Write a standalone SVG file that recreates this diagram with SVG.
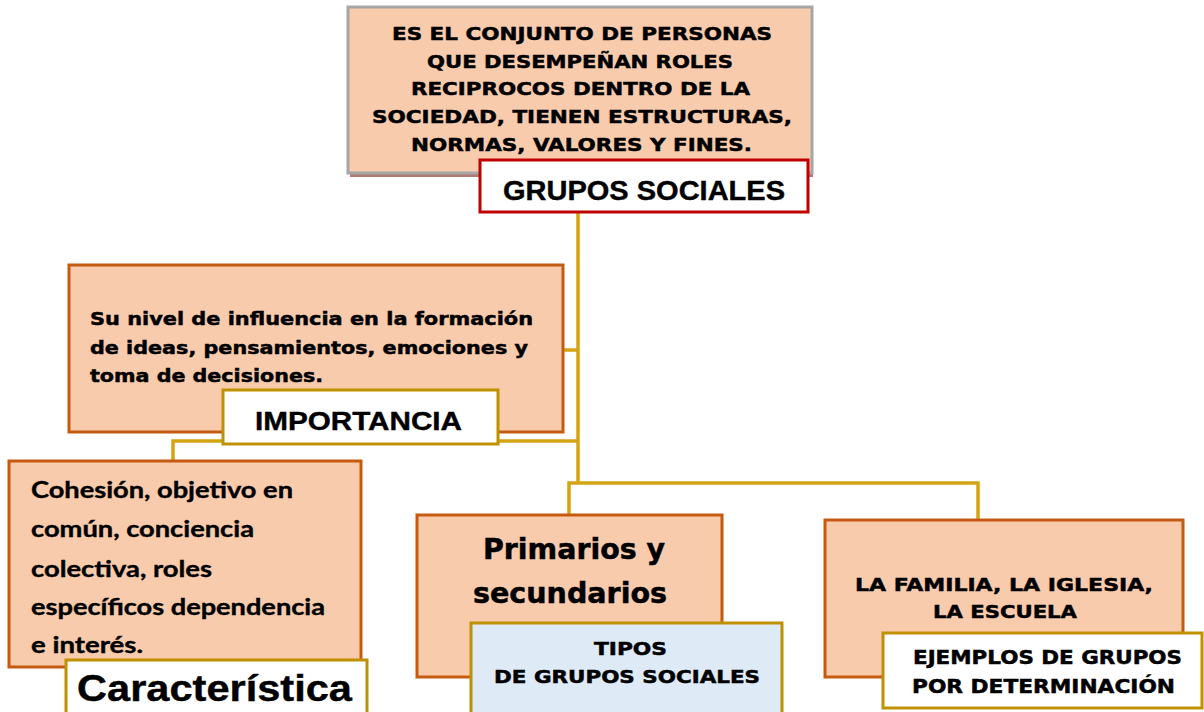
<svg xmlns="http://www.w3.org/2000/svg" width="1204" height="712" viewBox="0 0 1204 712">
<style>
.peach{fill:#f8cbad;stroke:#c55a11;stroke-width:3}
.lbl{fill:#ffffff;stroke:#bf9000;stroke-width:3}
.conn{fill:none;stroke:#d4a415;stroke-width:3.5}
.v{font-family:"DejaVu Sans",Verdana,sans-serif;font-weight:bold;fill:#000;stroke:#000;stroke-width:0.5}
.a{font-family:"Liberation Sans",Arial,sans-serif;font-weight:bold;fill:#000;stroke:#000;stroke-width:0.4}
.c{font-family:Lato,"Open Sans",sans-serif;font-weight:bold;fill:#000;stroke:#000;stroke-width:0.4}
</style>
<rect width="1204" height="712" fill="#fff"/>
<g id="connectors">
<path class="conn" d="M578 212 V484"/>
<path class="conn" d="M563 350 H578"/>
<path class="conn" d="M173 460 V441 H578"/>
<path class="conn" d="M569 515 V483 H978 V519"/>
</g>
<g id="definicion">
<rect x="350" y="9" width="463" height="168" fill="#b07a70"/>
<rect x="348" y="7" width="464" height="166" fill="#f8cbad" stroke="#a6a6a6" stroke-width="3"/>
<text class="v" font-size="18.5">
<tspan x="392" y="40" textLength="380" lengthAdjust="spacingAndGlyphs">ES EL CONJUNTO DE PERSONAS</tspan>
<tspan x="427" y="68" textLength="306" lengthAdjust="spacingAndGlyphs">QUE DESEMPEÑAN ROLES</tspan>
<tspan x="411" y="95" textLength="339" lengthAdjust="spacingAndGlyphs">RECIPROCOS DENTRO DE LA</tspan>
<tspan x="372" y="123" textLength="420" lengthAdjust="spacingAndGlyphs">SOCIEDAD, TIENEN ESTRUCTURAS,</tspan>
<tspan x="411" y="151" textLength="341" lengthAdjust="spacingAndGlyphs">NORMAS, VALORES Y FINES.</tspan>
</text>
</g>
<g id="grupos-sociales">
<rect x="480" y="160" width="328" height="52" fill="#fff" stroke="#c00000" stroke-width="3"/>
<text class="a" font-size="27" x="503" y="200" textLength="282" lengthAdjust="spacingAndGlyphs">GRUPOS SOCIALES</text>
</g>
<g id="importancia-texto">
<rect class="peach" x="69" y="265" width="494" height="167"/>
<text class="v" font-size="18.5">
<tspan x="90" y="325" textLength="443" lengthAdjust="spacingAndGlyphs">Su nivel de influencia en la formación</tspan>
<tspan x="90" y="354" textLength="438" lengthAdjust="spacingAndGlyphs">de ideas, pensamientos, emociones y</tspan>
<tspan x="90" y="382" textLength="233" lengthAdjust="spacingAndGlyphs">toma de decisiones.</tspan>
</text>
</g>
<g id="importancia">
<rect class="lbl" x="223" y="390" width="275" height="54"/>
<text class="a" font-size="25.5" x="255" y="430" textLength="207" lengthAdjust="spacingAndGlyphs">IMPORTANCIA</text>
</g>
<g id="caracteristica-texto">
<rect class="peach" x="9" y="461" width="352" height="206"/>
<text class="c" font-size="23.5">
<tspan x="31" y="498" textLength="262" lengthAdjust="spacingAndGlyphs">Cohesión, objetivo en</tspan>
<tspan x="31" y="537" textLength="223" lengthAdjust="spacingAndGlyphs">común, conciencia</tspan>
<tspan x="31" y="577" textLength="181" lengthAdjust="spacingAndGlyphs">colectiva, roles</tspan>
<tspan x="31" y="615" textLength="294" lengthAdjust="spacingAndGlyphs">específicos dependencia</tspan>
<tspan x="31" y="653" textLength="112" lengthAdjust="spacingAndGlyphs">e interés.</tspan>
</text>
</g>
<g id="caracteristica">
<rect class="lbl" x="66" y="660" width="301" height="60"/>
<text class="a" font-size="36" x="77" y="701" textLength="275" lengthAdjust="spacingAndGlyphs">Característica</text>
</g>
<g id="tipos-texto">
<rect class="peach" x="417" y="515" width="305" height="162"/>
<text class="v" font-size="28">
<tspan x="483" y="559" textLength="182" lengthAdjust="spacingAndGlyphs">Primarios y</tspan>
<tspan x="473" y="603" textLength="194" lengthAdjust="spacingAndGlyphs">secundarios</tspan>
</text>
</g>
<g id="tipos">
<rect x="471" y="623" width="311" height="100" fill="#deebf7" stroke="#bf9000" stroke-width="3"/>
<text class="v" font-size="18">
<tspan x="594" y="655" textLength="73" lengthAdjust="spacingAndGlyphs">TIPOS</tspan>
<tspan x="494" y="683" textLength="266" lengthAdjust="spacingAndGlyphs">DE GRUPOS SOCIALES</tspan>
</text>
</g>
<g id="ejemplos-texto">
<rect class="peach" x="825" y="520" width="358" height="157"/>
<text class="v" font-size="18.5">
<tspan x="855" y="591" textLength="298" lengthAdjust="spacingAndGlyphs">LA FAMILIA, LA IGLESIA,</tspan>
<tspan x="933" y="618" textLength="144" lengthAdjust="spacingAndGlyphs">LA ESCUELA</tspan>
</text>
</g>
<g id="ejemplos">
<rect class="lbl" x="883" y="633" width="319" height="75"/>
<text class="v" font-size="19">
<tspan x="913" y="664" textLength="269" lengthAdjust="spacingAndGlyphs">EJEMPLOS DE GRUPOS</tspan>
<tspan x="912" y="693" textLength="263" lengthAdjust="spacingAndGlyphs">POR DETERMINACIÓN</tspan>
</text>
</g>
</svg>
